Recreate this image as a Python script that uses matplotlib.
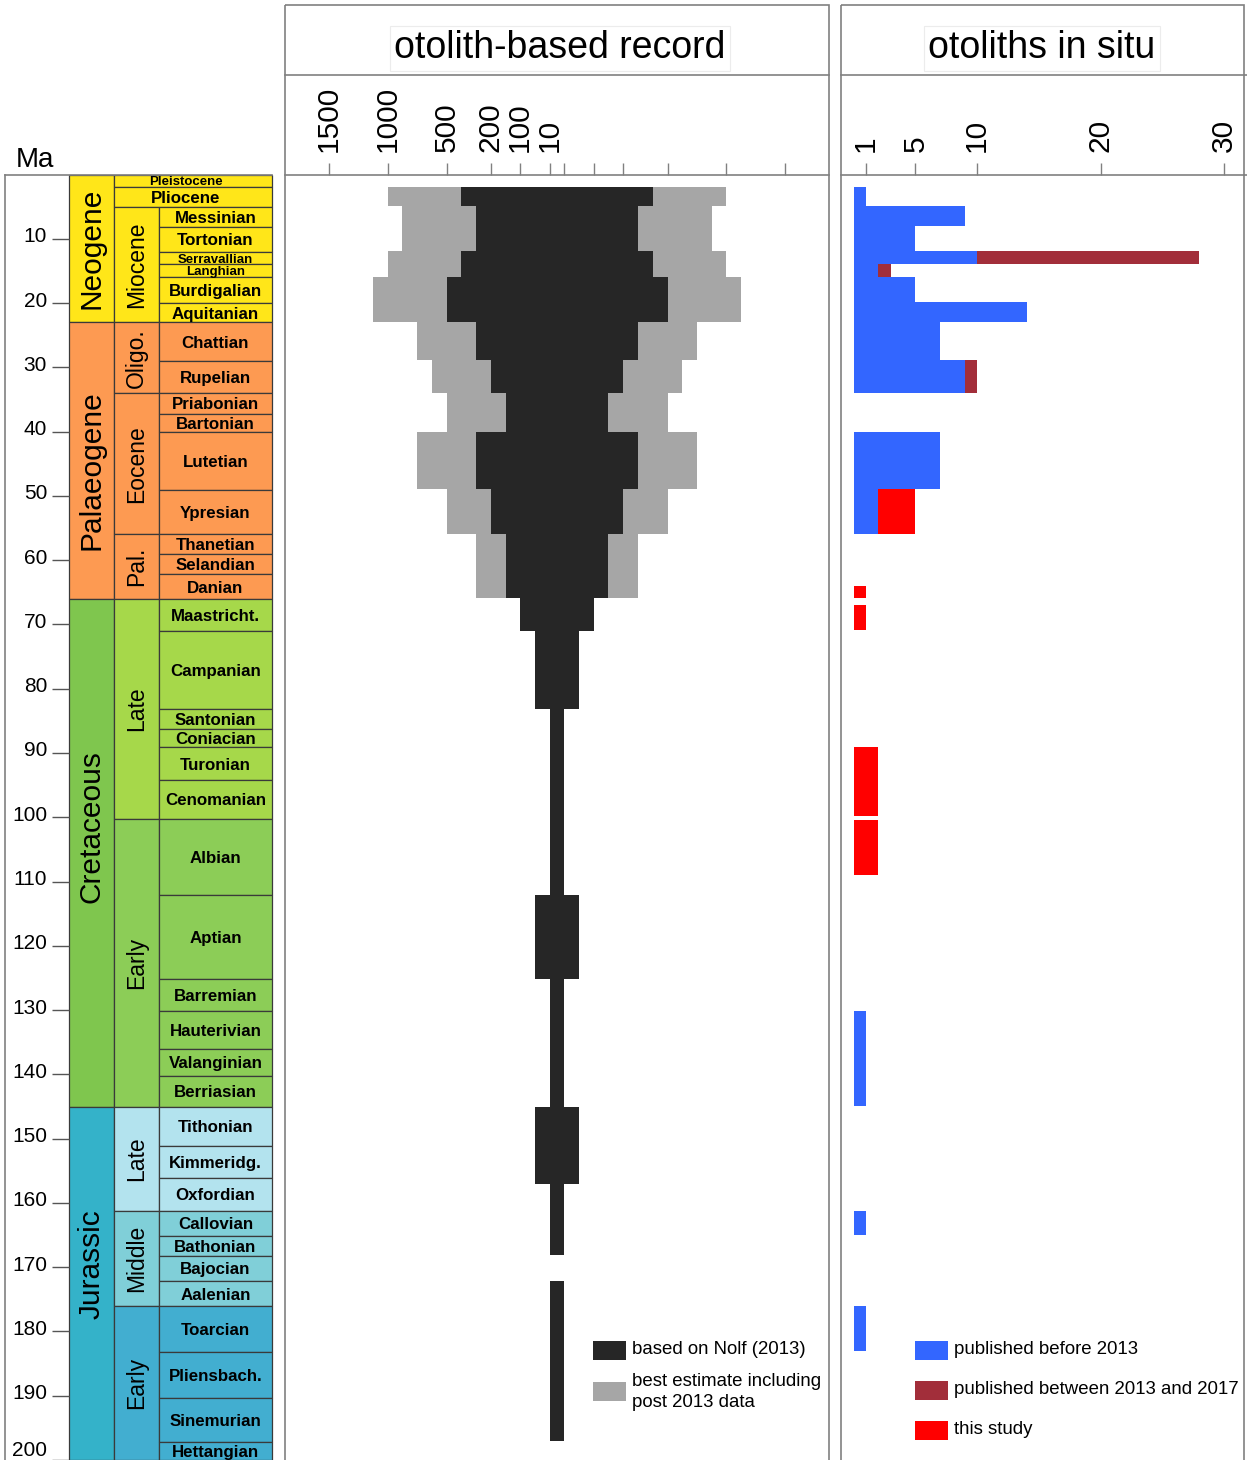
import numpy as np
import matplotlib
matplotlib.use('Agg')
import matplotlib.pyplot as plt
from matplotlib.transforms import Affine2D, ScaledTranslation
from matplotlib.patches import Rectangle
from matplotlib.lines import Line2D
from matplotlib.ticker import FixedLocator, FixedFormatter

plt.rcParams['font.family'] = ['Liberation Sans', 'DejaVu Sans']

# ---------------- DATA ----------------
# Geological time scale (Ma)
periods = ['Neogene', 'Palaeogene', 'Cretaceous', 'Jurassic']
period_top = [0.0, 23.0, 66.0, 145.1]
period_base = [23.0, 66.0, 145.1, 200.0]
period_label_at = [11.5, 46.0, 101.5, 169.6]
period_colors = ['#FFE619', '#FD9A52', '#7FC64E', '#34B2C9']

epochs = ['Pleistocene', 'Pliocene', 'Miocene', 'Oligo.', 'Eocene', 'Pal.',
          'Late', 'Early', 'Late', 'Middle', 'Early']
epoch_top = [0.0, 2.0, 5.0, 23.0, 34.0, 56.0, 66.0, 100.2, 145.1, 161.2, 176.0]
epoch_base = [2.0, 5.0, 23.0, 34.0, 56.0, 66.0, 100.2, 145.1, 161.2, 176.0, 200.0]
epoch_wide = [True, True, False, False, False, False, False, False, False, False, False]
epoch_colors = ['#FFE619', '#FFE619', '#FFE619', '#FD9A52', '#FD9A52', '#FD9A52',
                '#A6D84A', '#8CCD57', '#B3E3EE', '#80CFD8', '#42AED0']

stages = ['Messinian', 'Tortonian', 'Serravallian', 'Langhian', 'Burdigalian', 'Aquitanian',
          'Chattian', 'Rupelian', 'Priabonian', 'Bartonian', 'Lutetian', 'Ypresian',
          'Thanetian', 'Selandian', 'Danian', 'Maastricht.', 'Campanian', 'Santonian',
          'Coniacian', 'Turonian', 'Cenomanian', 'Albian', 'Aptian', 'Barremian',
          'Hauterivian', 'Valanginian', 'Berriasian', 'Tithonian', 'Kimmeridg.', 'Oxfordian',
          'Callovian', 'Bathonian', 'Bajocian', 'Aalenian', 'Toarcian', 'Pliensbach.',
          'Sinemurian', 'Hettangian']
stage_top = [5.0, 8.1, 12.0, 14.0, 16.0, 20.0, 23.0, 29.0, 34.0, 37.2, 40.1, 49.1,
             56.0, 59.1, 62.2, 66.0, 71.1, 83.1, 86.2, 89.1, 94.2, 100.2, 112.1, 125.1,
             130.1, 136.1, 140.2, 145.1, 151.1, 156.1, 161.2, 165.2, 168.2, 172.2,
             176.0, 183.2, 190.3, 197.2]
stage_base = stage_top[1:] + [200.0]
stage_colors = (['#FFE619'] * 6 + ['#FD9A52'] * 9 + ['#A6D84A'] * 6 + ['#8CCD57'] * 6
                + ['#B3E3EE'] * 3 + ['#80CFD8'] * 4 + ['#42AED0'] * 4)
small_labels = ['Serravallian', 'Langhian', 'Pleistocene']

ma_ticks = list(range(10, 201, 10))

# Otolith-based record (number of taxa), symmetric spindle
nolf_top = [1.9, 4.9, 11.9, 15.9, 23.0, 28.9, 34.0, 40.0, 49.0, 56.0, 65.9, 71.0,
            83.1, 112.1, 125.1, 145.1, 157.1, 172.2]
nolf_base = [4.9, 11.9, 15.9, 23.0, 28.9, 34.0, 40.0, 49.0, 56.0, 65.9, 71.0, 83.1,
             112.1, 125.1, 145.1, 157.1, 168.1, 197.0]
nolf_value = [400, 300, 400, 500, 300, 200, 150, 300, 200, 150, 100, 55,
              10, 55, 10, 55, 10, 10]
best_top = [1.9, 4.9, 11.9, 15.9, 23.0, 28.9, 34.0, 40.0, 49.0, 56.0]
best_base = [4.9, 11.9, 15.9, 23.0, 28.9, 34.0, 40.0, 49.0, 56.0, 65.9]
best_value = [1000, 875, 1000, 1125, 750, 625, 500, 750, 500, 300]

record_ticks = [1500, 1000, 500, 200, 100, 10]
record_tick_halfwidth = [228.0, 169.2, 110.5, 66.0, 36.8, 7.2]

# Otoliths in situ
situ_top = [1.9, 4.9, 8.0, 11.9, 14.0, 15.9, 19.9, 23.0, 28.9, 40.0, 49.0,
            64.0, 67.0, 89.1, 100.4, 130.1, 161.2, 176.0]
situ_base = [4.9, 8.0, 11.9, 14.0, 15.9, 19.9, 23.0, 28.9, 34.0, 49.0, 56.0,
             65.9, 70.9, 99.8, 109.0, 145.0, 165.0, 183.0]
pre2013 = [1, 9, 5, 10, 2, 5, 14, 7, 9, 7, 2, 0, 0, 0, 0, 1, 1, 1]
y2013_2017 = [0, 0, 0, 18, 1, 0, 0, 0, 1, 0, 0, 0, 0, 0, 0, 0, 0, 0]
this_study = [0, 0, 0, 0, 0, 0, 0, 0, 0, 0, 3, 1, 1, 2, 2, 0, 0, 0]
situ_ticks = [1, 5, 10, 20, 30]

# ---------------- STYLE / LAYOUT ----------------
W, H = 1247, 1460
fig = plt.figure(figsize=(W / 100, H / 100), dpi=100)
T = Affine2D().scale(1 / W, -1 / H).translate(0, 1) + fig.transFigure
FRAME = '#808080'
EDGE = '#3a3a3a'
C_BLACK, C_GRAY = '#262626', '#A6A6A6'
C_BLUE, C_MAROON, C_RED = '#3366FF', '#A22E3A', '#FF0000'
Y_TOP_PX = 174.5
DOWN = ScaledTranslation(0, -1.5 / 100, fig.dpi_scale_trans)


def frac(x0, y0, x1, y1):
    return [x0 / W, 1 - y1 / H, (x1 - x0) / W, (y1 - y0) / H]


# ---------------- GEOLOGICAL COLUMN ----------------
axg = fig.add_axes(frac(69, Y_TOP_PX, 272, H))
axg.set_xlim(0, 1)
axg.set_ylim(200, 0)
for s in axg.spines.values():
    s.set_visible(False)
axg.set_xticks([])
C1 = (114 - 69) / 203
C2 = (158.7 - 69) / 203


def boxes(tops, bases, x0, x1, colors, ec=EDGE):
    tops = np.array(tops); bases = np.array(bases)
    bars = axg.barh((tops + bases) / 2, x1 - x0, left=x0, height=bases - tops,
                    color=colors, edgecolor=ec, linewidth=0.9)
    for b in bars:
        b.set_clip_on(False)


boxes(period_top, period_base, 0, C1, period_colors)
for name, y in zip(periods, period_label_at):
    axg.text(C1 / 2, y, name, rotation=90, ha='center', va='center', fontsize=21.5)

for name, t, b, wide, col in zip(epochs, epoch_top, epoch_base, epoch_wide, epoch_colors):
    x1 = 1.0 if wide else C2
    boxes([t], [b], C1, x1, [col])
    if wide:
        fs = 9.5 if name in small_labels else 12.2
        axg.text(0.576, (t + b) / 2, name, ha='center', va='center', fontsize=fs,
                 fontweight='bold', transform=axg.transData + DOWN)
    else:
        axg.text((C1 + C2) / 2, (t + b) / 2, name, rotation=90, ha='center', va='center',
                 fontsize=16.5)

boxes(stage_top, stage_base, C2, 1.0, stage_colors)
for name, t, b in zip(stages, stage_top, stage_base):
    fs = 9.5 if name in small_labels else 12.2
    axg.text((C2 + 1) / 2, (t + b) / 2, name, ha='center', va='center', fontsize=fs,
             fontweight='bold', transform=axg.transData + DOWN)

axg.yaxis.set_major_locator(FixedLocator(ma_ticks))
axg.yaxis.set_major_formatter(FixedFormatter([str(v) for v in ma_ticks]))
axg.tick_params(axis='y', length=12.2, width=1.0, color='#555555', labelsize=15, pad=3.6)
for v, lab in zip(ma_ticks, axg.get_yticklabels()):
    dy = 11 if v == 200 else 4
    lab.set_transform(lab.get_transform() + ScaledTranslation(0, dy / 100, fig.dpi_scale_trans))

fig.add_artist(Line2D([5, 5], [Y_TOP_PX, H + 5], transform=T, color=FRAME, lw=1.2))
fig.add_artist(Line2D([5, 272], [Y_TOP_PX, Y_TOP_PX], transform=T, color=FRAME, lw=1.2))
fig.text(16, 167, 'Ma', transform=T, fontsize=20, va='baseline', ha='left')


# ---------------- PANEL FRAMES ----------------
def panel_frame(x0, x1, title, tx, stub=0):
    fig.add_artist(Rectangle((x0, 5), x1 - x0, H + 10, transform=T, fill=False,
                             ec=FRAME, lw=1.2))
    fig.add_artist(Line2D([x0, x1 + stub], [75, 75], transform=T, color=FRAME, lw=1.2))
    fig.text(tx, 58, title, transform=T, fontsize=27, ha='center', va='baseline',
             bbox=dict(boxstyle='square,pad=0.12', fc='white', ec='#ececec', lw=0.8))


panel_frame(285, 829, 'otolith-based record', 560)
panel_frame(841, 1244, 'otoliths in situ', 1042, stub=3)

# ---------------- MIDDLE: spindle ----------------
VALS = np.array([0] + record_ticks[::-1] + [2500], dtype=float)
PXS = np.array([0] + record_tick_halfwidth[::-1] + [228.0 + 2 * 58.8])


def fwd(v):
    v = np.asarray(v, dtype=float)
    return np.sign(v) * np.interp(np.abs(v), VALS, PXS)


def inv(p):
    p = np.asarray(p, dtype=float)
    return np.sign(p) * np.interp(np.abs(p), PXS, VALS)


axm = fig.add_axes(frac(285, Y_TOP_PX, 829, H))
axm.set_xscale('function', functions=(fwd, inv))
lim = float(inv(272.0))
axm.set_xlim(-lim, lim)
axm.set_ylim(200, 0)
axm.patch.set_alpha(0)
for k, s in axm.spines.items():
    s.set_visible(k == 'top')
axm.spines['top'].set_color(FRAME)
axm.spines['top'].set_linewidth(1.2)
axm.set_yticks([])

bt, bb, bv = map(np.array, (best_top, best_base, best_value))
axm.barh((bt + bb) / 2, 2 * bv, left=-bv, height=bb - bt, color=C_GRAY, linewidth=0)
nt, nb, nv = map(np.array, (nolf_top, nolf_base, nolf_value))
axm.barh((nt + nb) / 2, 2 * nv, left=-nv, height=nb - nt, color=C_BLACK, linewidth=0)

tick_pos = [-v for v in record_ticks] + [v for v in record_ticks[::-1]]
tick_lab = [str(v) for v in record_ticks] + [''] * len(record_ticks)
axm.xaxis.set_major_locator(FixedLocator(tick_pos))
axm.xaxis.set_major_formatter(FixedFormatter(tick_lab))
axm.xaxis.set_minor_locator(FixedLocator([]))
axm.tick_params(axis='x', top=True, bottom=False, labeltop=True, labelbottom=False,
                direction='out', length=8.6, width=1.0, color=FRAME, labelsize=21.5,
                pad=7.5, labelrotation=90)

# ---------------- RIGHT: in situ ----------------
axr = fig.add_axes(frac(841, Y_TOP_PX, 1244, H))
axr.set_xlim((841 - 853.6) / 12.35, (1244 - 853.6) / 12.35)
axr.set_ylim(200, 0)
axr.patch.set_alpha(0)
for k, s in axr.spines.items():
    s.set_visible(k == 'top')
axr.spines['top'].set_color(FRAME)
axr.spines['top'].set_linewidth(1.2)
axr.set_yticks([])

st, sb = np.array(situ_top), np.array(situ_base)
p13, p17, ps = map(np.array, (pre2013, y2013_2017, this_study))
axr.barh((st + sb) / 2, p13, left=0, height=sb - st, color=C_BLUE, linewidth=0)
axr.barh((st + sb) / 2, p17, left=p13, height=sb - st, color=C_MAROON, linewidth=0)
axr.barh((st + sb) / 2, ps, left=p13 + p17, height=sb - st, color=C_RED, linewidth=0)

axr.xaxis.set_major_locator(FixedLocator(situ_ticks))
axr.xaxis.set_major_formatter(FixedFormatter([str(v) for v in situ_ticks]))
axr.tick_params(axis='x', top=True, bottom=False, labeltop=True, labelbottom=False,
                direction='out', length=8.6, width=1.0, color=FRAME, labelsize=21.5,
                pad=7.5, labelrotation=90)
fig.add_artist(Line2D([1244, 1247], [Y_TOP_PX, Y_TOP_PX], transform=T, color=FRAME, lw=1.2))

# ---------------- LEGENDS ----------------
def legend_item(x, y, color, text, ty=None):
    fig.add_artist(Rectangle((x, y - 9.5), 33, 19, transform=T, fc=color, ec='none'))
    fig.text(x + 39, y if ty is None else ty, text, transform=T, fontsize=13.4,
             ha='left', va='center', linespacing=1.3)


legend_item(593, 1350, C_BLACK, 'based on Nolf (2013)')
legend_item(593, 1391, C_GRAY, 'best estimate including\npost 2013 data', ty=1392)
legend_item(915, 1350, C_BLUE, 'published before 2013')
legend_item(915, 1390, C_MAROON, 'published between 2013 and 2017')
legend_item(915, 1430, C_RED, 'this study')

fig.savefig('out.png', dpi=100)
